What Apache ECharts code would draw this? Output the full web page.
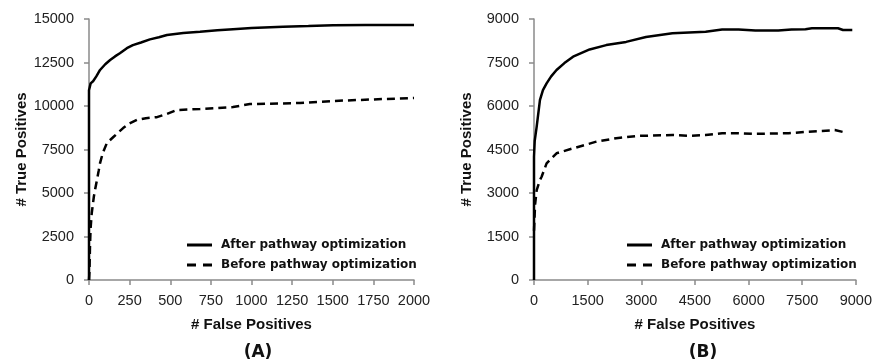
<!DOCTYPE html>
<html>
<head>
<meta charset="utf-8">
<script src="https://cdn.jsdelivr.net/npm/echarts@6.0.0/dist/echarts.min.js"></script>
<style>html,body{margin:0;padding:0;background:#fff;}#c{width:875px;height:360px;}</style>
</head>
<body>
<div id="c"></div>
<script>
// Panel A data
const fpA_after = [0, 0, 10, 25, 45, 68, 100, 130, 160, 190, 233, 270, 320, 375, 430, 480, 580, 683, 790, 886, 1000, 1195, 1350, 1502, 1700, 2000];
const tpA_after = [0, 10900, 11300, 11420, 11700, 12070, 12400, 12640, 12850, 13030, 13320, 13500, 13650, 13830, 13950, 14080, 14200, 14270, 14350, 14410, 14480, 14560, 14600, 14640, 14650, 14655];
const fpA_before = [0, 3, 6, 10, 17, 30, 37, 49, 60, 68, 85, 110, 150, 210, 250, 295, 350, 418, 480, 540, 683, 886, 990, 1298, 1502, 1810, 2000];
const tpA_before = [0, 500, 1900, 3000, 3850, 4800, 5170, 5750, 6300, 6720, 7300, 7870, 8220, 8730, 9000, 9200, 9300, 9360, 9550, 9770, 9830, 9940, 10110, 10170, 10290, 10400, 10460];
// Panel B data
const fpB_after = [0, 0, 20, 75, 167, 250, 352, 480, 630, 850, 1093, 1556, 2020, 2575, 3130, 3870, 4800, 5260, 5720, 6190, 6830, 7200, 7590, 7770, 8500, 8640, 8900];
const tpB_after = [0, 4250, 4800, 5290, 6210, 6550, 6780, 7020, 7240, 7480, 7700, 7950, 8100, 8210, 8380, 8510, 8560, 8640, 8640, 8600, 8600, 8640, 8650, 8680, 8680, 8620, 8620];
const fpB_before = [0, 30, 75, 167, 213, 352, 630, 1093, 1741, 2297, 2945, 3870, 4340, 4800, 5260, 5720, 6190, 7120, 7590, 8050, 8410, 8730];
const tpB_before = [1700, 2600, 3100, 3450, 3560, 4020, 4370, 4540, 4770, 4890, 4970, 5000, 4970, 5000, 5060, 5060, 5040, 5060, 5110, 5140, 5170, 5080];
// Axis / text
const seriesNames = ['After pathway optimization', 'Before pathway optimization'];
const xAxisName = '# False Positives';
const yAxisName = '# True Positives';
const panelLabels = ['(A)', '(B)'];
const axisA = {xMax: 2000, xStep: 250, yMax: 15000, yStep: 2500};
const axisB = {xMax: 9000, xStep: 1500, yMax: 9000, yStep: 1500};

const pairs = (xs, ys) => xs.map((x, i) => [x, ys[i]]);

const SANS = 'Arial, "Liberation Sans", sans-serif';
const BOLD2 = '"DejaVu Sans", sans-serif';
const axisLineStyle = {show: true, lineStyle: {color: '#8a8a8a', width: 1.5}};
const tickStyle = {show: true, inside: false, length: 5, lineStyle: {color: '#8a8a8a', width: 1.5}};
const labelStyle = {color: '#222', fontFamily: SANS, fontSize: 14.5, formatter: v => String(v)};
const nameStyle = {color: '#111', fontFamily: SANS, fontSize: 15, fontWeight: 'bold'};

function xAxis(idx, a) {
  return {type: 'value', gridIndex: idx, min: 0, max: a.xMax, interval: a.xStep,
    axisLine: axisLineStyle, axisTick: tickStyle, splitLine: {show: false},
    axisLabel: Object.assign({margin: 13}, labelStyle),
    name: xAxisName, nameLocation: 'middle', nameGap: 37, nameTextStyle: nameStyle};
}
function yAxis(idx, a) {
  return {type: 'value', gridIndex: idx, min: 0, max: a.yMax, interval: a.yStep,
    axisLine: axisLineStyle, axisTick: tickStyle, splitLine: {show: false},
    axisLabel: Object.assign({margin: 15}, labelStyle),
    name: yAxisName, nameLocation: 'middle', nameGap: 60, nameTextStyle: nameStyle};
}
function line(name, idx, data, dashed) {
  return {type: 'line', name: name, xAxisIndex: idx, yAxisIndex: idx, data: data,
    showSymbol: false, symbol: 'none', animation: false, z: 3,
    lineStyle: {color: '#000', width: 2.5, type: dashed ? [8, 5] : 'solid'},
    itemStyle: {color: '#000'}};
}
const legendText = {fontFamily: BOLD2, fontWeight: 'bold', fontSize: 12, lineHeight: 14, color: '#111', padding: [0, 0, 0, 4]};
const legendIcons = ['path://M0,0H25V3H0Z', 'path://M0,0H9V3H0Z M16,0H25V3H16Z'];
function legend(left) {
  return {orient: 'vertical', left: left, top: 233, itemWidth: 25, itemHeight: 3, itemGap: 6,
    data: seriesNames.map((n, i) => ({name: n, icon: legendIcons[i]})),
    textStyle: legendText, selectedMode: false};
}

const chart = echarts.init(document.getElementById('c'), null, {renderer: 'canvas'});
chart.setOption({
  backgroundColor: '#fff',
  animation: false,
  grid: [
    {left: 89, right: 461, top: 19, bottom: 80},
    {left: 534, right: 17, top: 19, bottom: 80}
  ],
  xAxis: [xAxis(0, axisA), xAxis(1, axisB)],
  yAxis: [yAxis(0, axisA), yAxis(1, axisB)],
  legend: [legend(182), legend(622)],
  title: [
    {text: panelLabels[0], left: 253, top: 339, textAlign: 'center',
     textStyle: {fontFamily: BOLD2, fontWeight: 'bold', fontSize: 17, color: '#111'}},
    {text: panelLabels[1], left: 698, top: 339, textAlign: 'center',
     textStyle: {fontFamily: BOLD2, fontWeight: 'bold', fontSize: 17, color: '#111'}}
  ],
  series: [
    line(seriesNames[0], 0, pairs(fpA_after, tpA_after), false),
    line(seriesNames[1], 0, pairs(fpA_before, tpA_before), true),
    line(seriesNames[0], 1, pairs(fpB_after, tpB_after), false),
    line(seriesNames[1], 1, pairs(fpB_before, tpB_before), true)
  ]
});
</script>
</body>
</html>
